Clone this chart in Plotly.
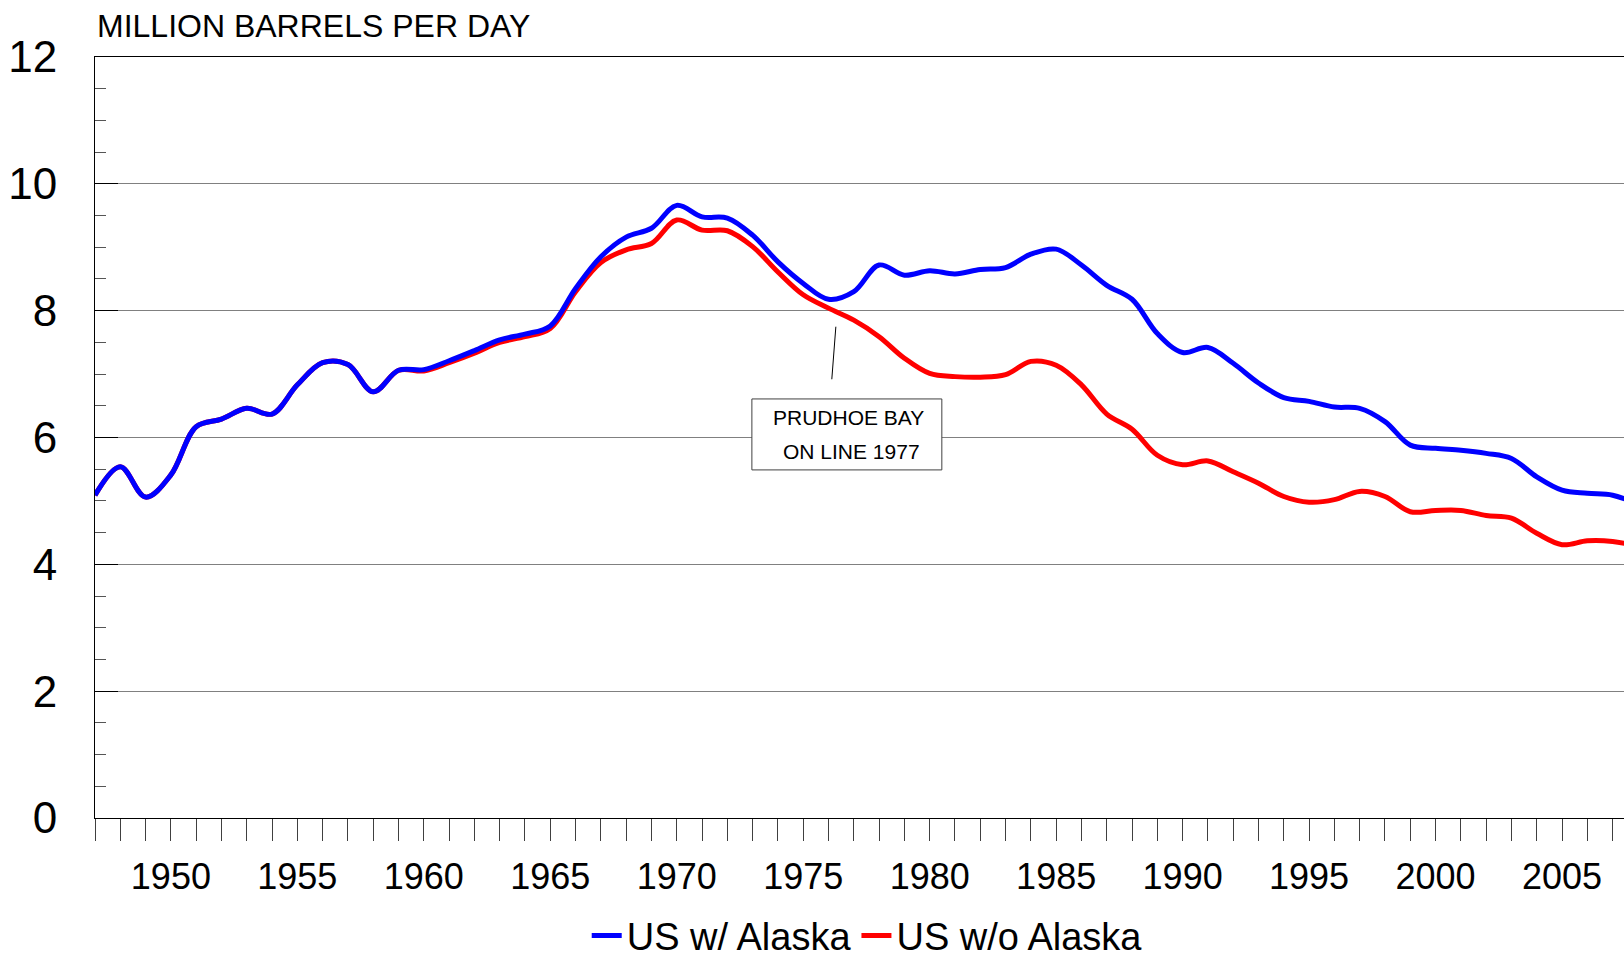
import plotly.graph_objects as go

years = list(range(1947, 2009))

us_with_alaska = [
    5.09, 5.54, 5.06, 5.41, 6.17, 6.29, 6.46, 6.37, 6.83, 7.18,
    7.15, 6.72, 7.06, 7.07, 7.21, 7.37, 7.54, 7.63, 7.76, 8.35,
    8.85, 9.16, 9.30, 9.66, 9.48, 9.46, 9.19, 8.77, 8.43, 8.18,
    8.30, 8.72, 8.56, 8.63, 8.58, 8.65, 8.68, 8.89, 8.97, 8.72,
    8.40, 8.18, 7.64, 7.34, 7.42, 7.17, 6.86, 6.63, 6.57, 6.48,
    6.46, 6.25, 5.88, 5.83, 5.80, 5.75, 5.67, 5.38, 5.17, 5.12,
    5.09, 4.95,
]

us_without_alaska = [
    5.09, 5.54, 5.06, 5.41, 6.17, 6.29, 6.46, 6.37, 6.83, 7.18,
    7.15, 6.72, 7.06, 7.05, 7.18, 7.33, 7.50, 7.59, 7.72, 8.30,
    8.76, 8.96, 9.06, 9.43, 9.27, 9.26, 9.01, 8.61, 8.25, 8.04,
    7.85, 7.59, 7.25, 7.01, 6.96, 6.95, 6.99, 7.20, 7.14, 6.83,
    6.37, 6.13, 5.72, 5.57, 5.63, 5.46, 5.28, 5.07, 4.98, 5.02,
    5.15, 5.07, 4.83, 4.85, 4.85, 4.77, 4.73, 4.49, 4.31, 4.37,
    4.36, 4.29,
]

y_tick_vals = [0, 2, 4, 6, 8, 10, 12]
x_tick_vals = [1950, 1955, 1960, 1965, 1970, 1975, 1980, 1985, 1990, 1995, 2000, 2005]

FONT = "Liberation Sans, Arial, sans-serif"

fig = go.Figure()
fig.add_trace(go.Scatter(
    x=years, y=us_without_alaska, name="US w/o Alaska", mode="lines",
    line=dict(color="#FF0000", width=5, shape="spline", smoothing=1.0),
))
fig.add_trace(go.Scatter(
    x=years, y=us_with_alaska, name="US w/ Alaska", mode="lines",
    line=dict(color="#0000FF", width=5, shape="spline", smoothing=1.0),
))

# annotation box
fig.add_shape(type="rect", xref="x", yref="y", x0=1972.97, x1=1980.48, y0=5.489, y1=6.608,
              line=dict(color="#404040", width=1), fillcolor="white", layer="above")
fig.add_shape(type="line", xref="x", yref="y", x0=1976.29, y0=7.747, x1=1976.13, y1=6.918,
              line=dict(color="black", width=1), layer="above")
fig.add_annotation(x=1976.80, y=6.308, xref="x", yref="y", text="PRUDHOE BAY", showarrow=False,
                   font=dict(family=FONT, size=21, color="black"), xanchor="center", yanchor="middle")
fig.add_annotation(x=1976.91, y=5.783, xref="x", yref="y", text="ON LINE 1977", showarrow=False,
                   font=dict(family=FONT, size=21, color="black"), xanchor="center", yanchor="middle")

# y-axis title at top
fig.add_annotation(x=0, y=1.0402, xref="paper", yref="paper", text="MILLION BARRELS PER DAY",
                   showarrow=False, xanchor="left", yanchor="middle",
                   font=dict(family=FONT, size=32, color="black"))

fig.update_layout(
    width=1624, height=956,
    margin=dict(l=95, r=0, t=57, b=138, autoexpand=False),
    paper_bgcolor="white", plot_bgcolor="white",
    font=dict(family=FONT, color="black"),
    showlegend=True,
    legend=dict(orientation="h", xref="container", yref="container", x=0.534, y=0.021,
                xanchor="center", yanchor="middle", traceorder="reversed",
                font=dict(family=FONT, size=38, color="black"), itemwidth=30,
                bgcolor="rgba(0,0,0,0)"),
    hovermode=False,
)

fig.update_xaxes(
    range=[1947, 2007.45], showgrid=False, zeroline=False,
    showline=True, linecolor="black", linewidth=1, mirror=True,
    tickmode="array", tickvals=x_tick_vals, ticktext=[str(v) for v in x_tick_vals],
    ticks="outside", ticklen=22, tickcolor="#404040", tickwidth=1,
    tickfont=dict(family=FONT, size=36, color="black"), ticklabelstandoff=5,
    minor=dict(dtick=1, tick0=1947, ticks="outside", ticklen=22, tickcolor="#404040", tickwidth=1, showgrid=False),
)
fig.update_yaxes(
    range=[0, 12], showgrid=True, gridcolor="#808080", gridwidth=1, zeroline=False,
    showline=True, linecolor="black", linewidth=1, mirror=False,
    tickmode="array", tickvals=y_tick_vals, ticktext=[str(v) for v in y_tick_vals],
    ticks="inside", ticklen=23, tickcolor="black", tickwidth=1,
    tickfont=dict(family=FONT, size=44, color="black"), ticklabelstandoff=28,
    minor=dict(dtick=0.5, tick0=0, ticks="inside", ticklen=11, tickcolor="#555555", tickwidth=1, showgrid=False),
)

fig.write_html("out.html", config={"displayModeBar": False, "staticPlot": True},
               post_script="document.body.style.margin='0';document.body.style.overflow='hidden';")
